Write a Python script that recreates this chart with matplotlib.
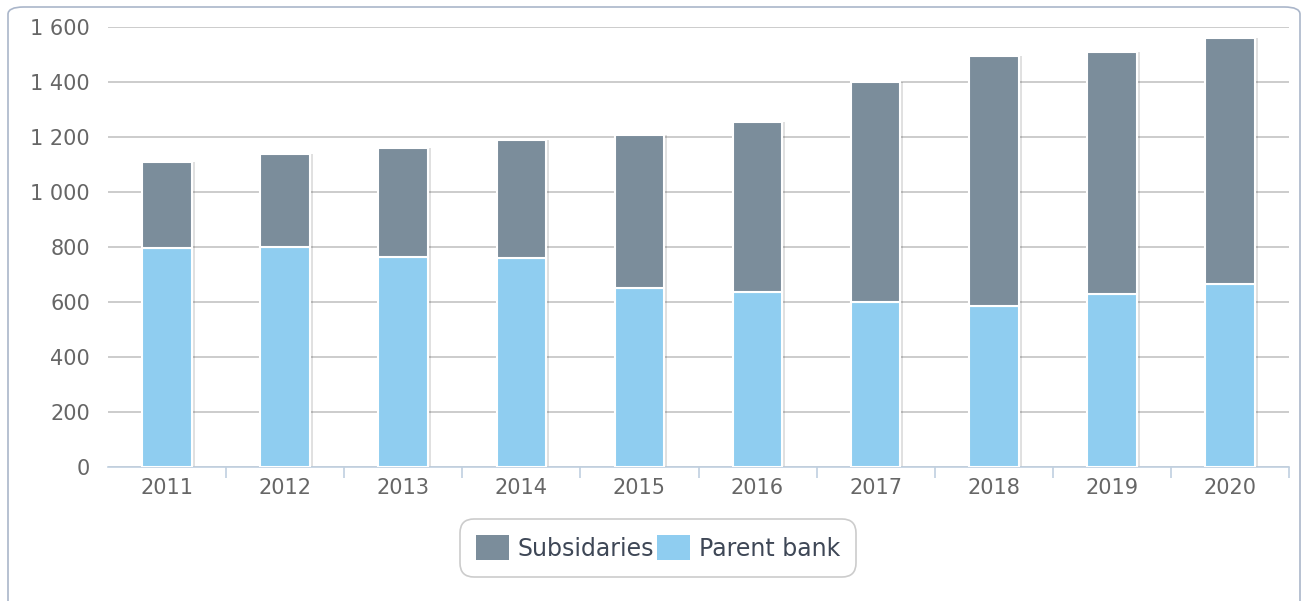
import matplotlib
matplotlib.use("Agg")
import matplotlib.pyplot as plt
from matplotlib.patches import FancyBboxPatch, Patch
from matplotlib.ticker import FuncFormatter
import numpy as np

years = ["2011", "2012", "2013", "2014", "2015", "2016", "2017", "2018", "2019", "2020"]
parent_bank = [795, 801, 765, 759, 650, 635, 599, 585, 628, 664]
subsidiaries = [313, 337, 394, 430, 559, 618, 801, 910, 882, 895]

c_sub = "#7b8d9b"
c_par = "#8fcdf0"

plt.rcParams['font.family'] = ['DejaVu Sans']
fig = plt.figure(figsize=(13.06, 6.01), dpi=100)

# outer frame
frame = FancyBboxPatch((8 / 1306, -0.05), (1300 - 8) / 1306, (601 - 7) / 601 + 0.05,
                       boxstyle="round,pad=0,rounding_size=0.012",
                       transform=fig.transFigure, facecolor="white",
                       edgecolor="#aab6ca", linewidth=1.2, zorder=-10)
fig.patches.append(frame)

ax = fig.add_axes([108 / 1306, 1 - 467 / 601, (1289 - 108) / 1306, (467 - 27) / 601])
ax.set_facecolor("none")
ax.set_zorder(1)

x = np.arange(len(years))
w = 0.42
# subtle shadows
ax.bar(x + 0.025, np.array(parent_bank) + np.array(subsidiaries), width=w, color="#000000",
       alpha=0.12, zorder=2, linewidth=0)
ax.bar(x, parent_bank, width=w, color=c_par, edgecolor="white", linewidth=1.5, zorder=3)
ax.bar(x, subsidiaries, width=w, bottom=parent_bank, color=c_sub, edgecolor="white",
       linewidth=1.5, zorder=3)

ax.set_xlim(-0.5, len(years) - 0.5)
ax.set_ylim(0, 1600)
ax.set_yticks(range(0, 1601, 200))
ax.yaxis.set_major_formatter(FuncFormatter(lambda v, p: f"{int(v):,}".replace(",", " ")))
ax.grid(axis="y", color="#c4c4c4", linewidth=1.2, zorder=1)
ax.set_axisbelow(True)

for s in ["top", "right", "left"]:
    ax.spines[s].set_visible(False)
ax.spines["bottom"].set_color("#c0d0e0")
ax.spines["bottom"].set_linewidth(1.2)

ax.set_xticks(x)
ax.set_xticklabels(years)
ax.set_xticks(np.arange(0.5, len(years), 1.0), minor=True)
ax.tick_params(axis="x", which="major", length=0, pad=8, labelsize=15, labelcolor="#666666")
ax.tick_params(axis="x", which="minor", length=8, color="#c0d0e0", width=1.2)
ax.tick_params(axis="y", length=0, pad=13, labelsize=15, labelcolor="#666666")

handles = [Patch(facecolor=c_sub, edgecolor="none"), Patch(facecolor=c_par, edgecolor="none")]
leg = fig.legend(handles, ["Subsidaries", "Parent bank"], loc="center",
                 bbox_to_anchor=(658 / 1306, 1 - 548 / 601), ncol=2, fontsize=17,
                 frameon=True, handlelength=1.4, handleheight=1.2, handletextpad=0.35,
                 columnspacing=0.15, borderpad=0.45, labelcolor="#3e4756",
                 facecolor="white", framealpha=1)
leg.get_frame().set_edgecolor("#cccccc")
leg.get_frame().set_linewidth(1.2)
leg.get_frame().set_boxstyle("round,pad=0.25,rounding_size=0.6")

fig.savefig("out.png", dpi=100)
